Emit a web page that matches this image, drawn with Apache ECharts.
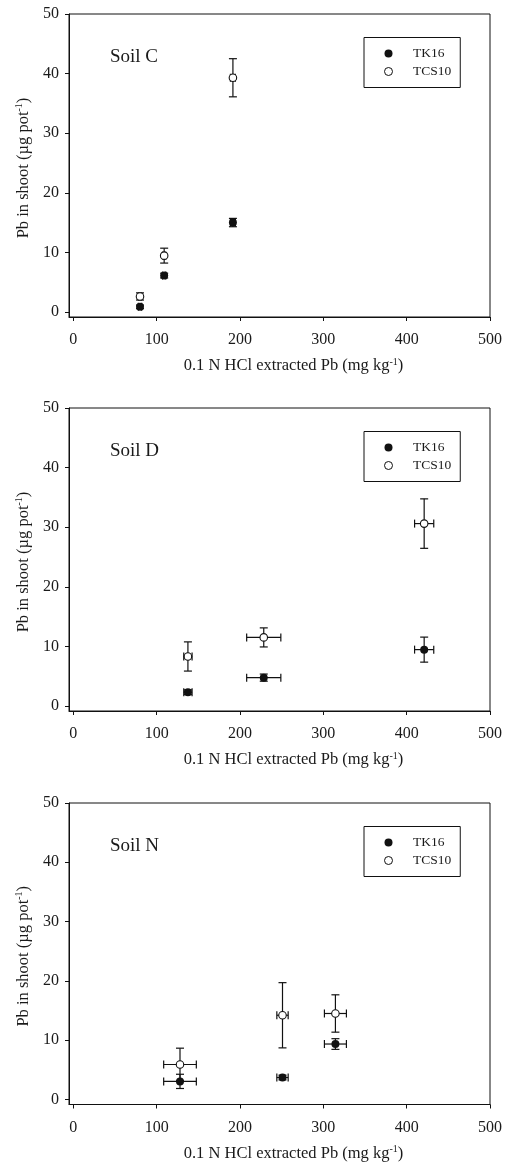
<!DOCTYPE html>
<html>
<head>
<meta charset="utf-8">
<script src="https://cdn.jsdelivr.net/npm/echarts@6/dist/echarts.min.js"></script>
<style>
html,body{margin:0;padding:0;background:#fff;}
#chart{width:511px;height:1163px;}
</style>
</head>
<body>
<div id="chart"></div>
<script>
// ---- data ----
const panelNames = ['Soil C', 'Soil D', 'Soil N'];
const seriesNames = ['TK16', 'TCS10'];
const xTicks = [0, 100, 200, 300, 400, 500];
const yTicks = [0, 10, 20, 30, 40, 50];

// Soil C
const soilC_TK16_x    = [80, 109, 191.5];
const soilC_TK16_y    = [0.85, 6.1, 15.0];
const soilC_TK16_xerr = [2, 2, 3];
const soilC_TK16_yerr = [0.3, 0.4, 0.7];
const soilC_TCS10_x    = [80, 109, 191.5];
const soilC_TCS10_y    = [2.6, 9.45, 39.3];
const soilC_TCS10_xerr = [2, 2, 3];
const soilC_TCS10_yerr = [0.6, 1.25, 3.2];

// Soil D
const soilD_TK16_x    = [137.5, 228.5, 421];
const soilD_TK16_y    = [2.3, 4.75, 9.45];
const soilD_TK16_xerr = [5, 20.5, 11.5];
const soilD_TK16_yerr = [0.4, 0.6, 2.1];
const soilD_TCS10_x    = [137.5, 228.5, 421];
const soilD_TCS10_y    = [8.3, 11.5, 30.6];
const soilD_TCS10_xerr = [5, 20.5, 11.5];
const soilD_TCS10_yerr = [2.45, 1.6, 4.15];

// Soil N
const soilN_TK16_x    = [128, 251, 314.5];
const soilN_TK16_y    = [3.05, 3.7, 9.35];
const soilN_TK16_xerr = [19.6, 6.8, 13.2];
const soilN_TK16_yerr = [1.2, 0.4, 0.9];
const soilN_TCS10_x    = [128, 251, 314.5];
const soilN_TCS10_y    = [5.9, 14.2, 14.5];
const soilN_TCS10_xerr = [19.6, 6.8, 13.2];
const soilN_TCS10_yerr = [2.75, 5.5, 3.15];

const panels = [
  {tk: [soilC_TK16_x, soilC_TK16_y, soilC_TK16_xerr, soilC_TK16_yerr],
   tcs: [soilC_TCS10_x, soilC_TCS10_y, soilC_TCS10_xerr, soilC_TCS10_yerr]},
  {tk: [soilD_TK16_x, soilD_TK16_y, soilD_TK16_xerr, soilD_TK16_yerr],
   tcs: [soilD_TCS10_x, soilD_TCS10_y, soilD_TCS10_xerr, soilD_TCS10_yerr]},
  {tk: [soilN_TK16_x, soilN_TK16_y, soilN_TK16_xerr, soilN_TK16_yerr],
   tcs: [soilN_TCS10_x, soilN_TCS10_y, soilN_TCS10_xerr, soilN_TCS10_yerr]}
];

// ---- layout ----
const FONT = "'Liberation Serif', 'Times New Roman', serif";
const INK = '#111';
const TXT = '#1a1a1a';
const gridTops = [14, 408, 803];
const gridH = 303;
const gridLeft = 69;
const gridRight = 21;

function zipRows(arrs) {
  return arrs[0].map((_, i) => arrs.map(a => a[i]));
}

function renderErr(params, api) {
  const x = api.value(0), y = api.value(1), ex = api.value(2), ey = api.value(3);
  const l = api.coord([x - ex, y]), r = api.coord([x + ex, y]);
  const t = api.coord([x, y + ey]), b = api.coord([x, y - ey]);
  const cap = 4;
  const st = {stroke: INK, lineWidth: 1.2};
  const ch = [];
  if (r[0] - l[0] > 1) {
    ch.push({type: 'line', shape: {x1: l[0], y1: l[1], x2: r[0], y2: r[1]}, style: st});
    ch.push({type: 'line', shape: {x1: l[0], y1: l[1] - cap, x2: l[0], y2: l[1] + cap}, style: st});
    ch.push({type: 'line', shape: {x1: r[0], y1: r[1] - cap, x2: r[0], y2: r[1] + cap}, style: st});
  }
  ch.push({type: 'line', shape: {x1: t[0], y1: t[1], x2: b[0], y2: b[1]}, style: st});
  ch.push({type: 'line', shape: {x1: t[0] - cap, y1: t[1], x2: t[0] + cap, y2: t[1]}, style: st});
  ch.push({type: 'line', shape: {x1: b[0] - cap, y1: b[1], x2: b[0] + cap, y2: b[1]}, style: st});
  return {type: 'group', children: ch};
}

const grids = [], xAxes = [], yAxes = [], series = [], titles = [], legends = [];

panels.forEach((p, i) => {
  grids.push({left: gridLeft, right: gridRight, top: gridTops[i], height: gridH,
    show: true, borderColor: INK, borderWidth: 1, backgroundColor: 'transparent'});
  xAxes.push({
    type: 'value', gridIndex: i, min: -5.2, max: 500,
    axisLine: {show: true, onZero: false, lineStyle: {color: INK, width: 1}},
    axisTick: {show: true, inside: false, length: 4, customValues: xTicks, lineStyle: {color: INK}},
    axisLabel: {show: true, customValues: xTicks, margin: 15, color: TXT, fontFamily: FONT, fontSize: 16},
    splitLine: {show: false},
    name: '0.1 N HCl extracted Pb (mg kg{sup|-1})',
    nameLocation: 'middle', nameGap: 40,
    nameTextStyle: {color: TXT, fontFamily: FONT, fontSize: 16.5, padding: [0, 0, 0, 28],
      rich: {sup: {fontSize: 10, fontFamily: FONT, color: TXT, verticalAlign: 'top', padding: [0, 0, 8, 0]}}}
  });
  yAxes.push({
    type: 'value', gridIndex: i, min: -0.85, max: 50,
    axisLine: {show: true, onZero: false, lineStyle: {color: INK, width: 1}},
    axisTick: {show: true, inside: false, length: 4, customValues: yTicks, lineStyle: {color: INK}},
    axisLabel: {show: true, customValues: yTicks, margin: 10, color: TXT, fontFamily: FONT, fontSize: 16},
    splitLine: {show: false},
    name: 'Pb in shoot (\u00b5g pot{sup|-1})',
    nameLocation: 'middle', nameGap: 36, nameRotate: 90,
    nameTextStyle: {color: TXT, fontFamily: FONT, fontSize: 16.5, padding: [0, 5, 0, 0],
      rich: {sup: {fontSize: 10, fontFamily: FONT, color: TXT, verticalAlign: 'top', padding: [0, 0, 8, 0]}}}
  });
  titles.push({text: panelNames[i], left: 110, top: gridTops[i] + 34, padding: 0,
    textStyle: {fontFamily: FONT, fontSize: 19, fontWeight: 'normal', color: TXT}});
  legends.push({
    orient: 'vertical', left: 364, top: gridTops[i] + 23.5,
    padding: [9, 9, 9, 20], itemWidth: 39, itemHeight: 8, itemGap: 4,
    borderColor: INK, borderWidth: 1, backgroundColor: '#fff',
    icon: 'circle', selectedMode: false,
    textStyle: {fontFamily: FONT, fontSize: 13.5, lineHeight: 14, color: TXT},
    data: [
      {name: 'TK16', itemStyle: {color: INK, borderWidth: 0}},
      {name: 'TCS10', itemStyle: {color: '#fff', borderColor: INK, borderWidth: 1}}
    ]
  });
  const tkRows = zipRows(p.tk), tcsRows = zipRows(p.tcs);
  series.push({type: 'custom', name: 'TK16', xAxisIndex: i, yAxisIndex: i, renderItem: renderErr,
    encode: {x: 0, y: 1}, data: tkRows, z: 2, silent: true});
  series.push({type: 'custom', name: 'TCS10', xAxisIndex: i, yAxisIndex: i, renderItem: renderErr,
    encode: {x: 0, y: 1}, data: tcsRows, z: 2, silent: true});
  series.push({type: 'scatter', name: 'TK16', xAxisIndex: i, yAxisIndex: i, symbol: 'circle', symbolSize: 8,
    itemStyle: {color: INK, opacity: 1}, data: tkRows.map(r => [r[0], r[1]]), z: 5});
  series.push({type: 'scatter', name: 'TCS10', xAxisIndex: i, yAxisIndex: i, symbol: 'circle', symbolSize: 7.5,
    itemStyle: {color: '#fff', borderColor: INK, borderWidth: 1.1, opacity: 1}, data: tcsRows.map(r => [r[0], r[1]]), z: 6});
});

const chart = echarts.init(document.getElementById('chart'), null, {renderer: 'canvas'});
chart.setOption({
  animation: false,
  backgroundColor: '#fff',
  title: titles,
  legend: legends,
  grid: grids,
  xAxis: xAxes,
  yAxis: yAxes,
  series: series
});
</script>
</body>
</html>
